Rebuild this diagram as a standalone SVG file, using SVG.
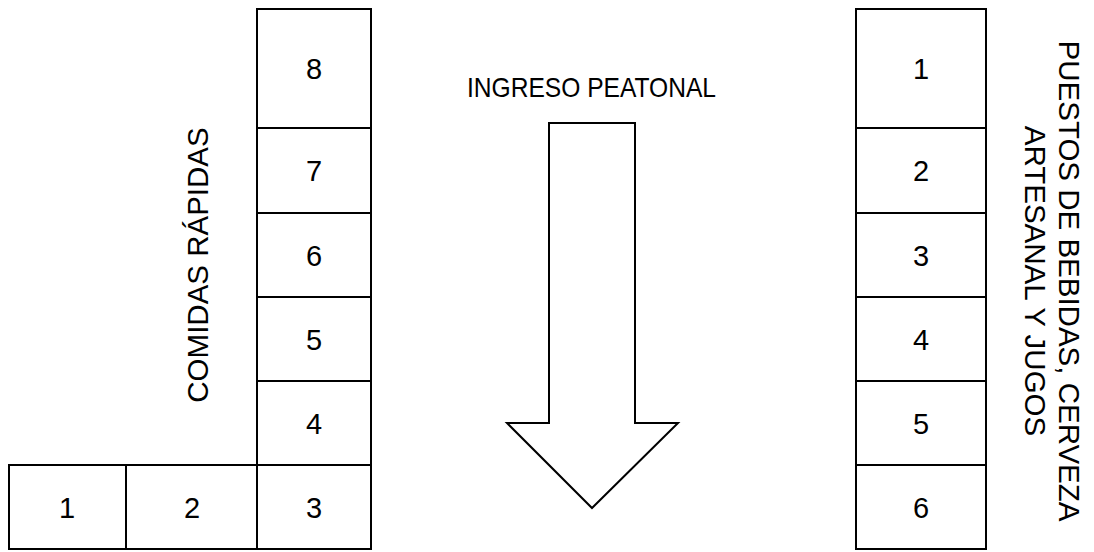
<svg xmlns="http://www.w3.org/2000/svg" width="1094" height="552" viewBox="0 0 1094 552">
<style>
.box{fill:#fff;stroke:#000;stroke-width:2}
.num{font-family:"Liberation Sans",Arial,sans-serif;font-size:29px;text-anchor:middle;fill:#000}
.lbl{font-family:"Liberation Sans",Arial,sans-serif;font-size:28px;fill:#000}
.vl{font-family:"Liberation Sans",Arial,sans-serif;font-size:29.5px;text-anchor:middle;fill:#000}
</style>
<rect width="1094" height="552" fill="#fff"/>
<g id="left-stalls">
<g id="L8"><rect class="box" x="257" y="9" width="114" height="119"/><text class="num" x="314" y="79">8</text></g>
<g id="L7"><rect class="box" x="257" y="128" width="114" height="85"/><text class="num" x="314" y="181">7</text></g>
<g id="L6"><rect class="box" x="257" y="213" width="114" height="84"/><text class="num" x="314" y="265.5">6</text></g>
<g id="L5"><rect class="box" x="257" y="297" width="114" height="84"/><text class="num" x="314" y="349.5">5</text></g>
<g id="L4"><rect class="box" x="257" y="381" width="114" height="84"/><text class="num" x="314" y="433.5">4</text></g>
<g id="L3"><rect class="box" x="257" y="465" width="114" height="84"/><text class="num" x="314" y="518">3</text></g>
<g id="L2"><rect class="box" x="126" y="465" width="131" height="84"/><text class="num" x="192" y="518">2</text></g>
<g id="L1"><rect class="box" x="9" y="465" width="117" height="84"/><text class="num" x="67" y="518">1</text></g>
</g>
<g id="right-stalls">
<g id="R1"><rect class="box" x="856" y="9" width="130" height="119"/><text class="num" x="921" y="79">1</text></g>
<g id="R2"><rect class="box" x="856" y="128" width="130" height="85"/><text class="num" x="921" y="181">2</text></g>
<g id="R3"><rect class="box" x="856" y="213" width="130" height="84"/><text class="num" x="921" y="265.5">3</text></g>
<g id="R4"><rect class="box" x="856" y="297" width="130" height="84"/><text class="num" x="921" y="349.5">4</text></g>
<g id="R5"><rect class="box" x="856" y="381" width="130" height="84"/><text class="num" x="921" y="433.5">5</text></g>
<g id="R6"><rect class="box" x="856" y="465" width="130" height="84"/><text class="num" x="921" y="518">6</text></g>
</g>
<g id="entrance">
<text class="lbl" x="467" y="97" textLength="249" lengthAdjust="spacingAndGlyphs">INGRESO PEATONAL</text>
<polygon class="box" points="549,123 635,123 635,423 678,423 592,508 507,423 549,423"/>
</g>
<g id="labels">
<text class="vl" transform="translate(208,265) rotate(-90)">COMIDAS RÁPIDAS</text>
<text class="vl" transform="translate(1059,281) rotate(90)">PUESTOS DE BEBIDAS, CERVEZA</text>
<text class="vl" transform="translate(1025,281) rotate(90)">ARTESANAL Y JUGOS</text>
</g>
<g id="connectors"></g>
</svg>
